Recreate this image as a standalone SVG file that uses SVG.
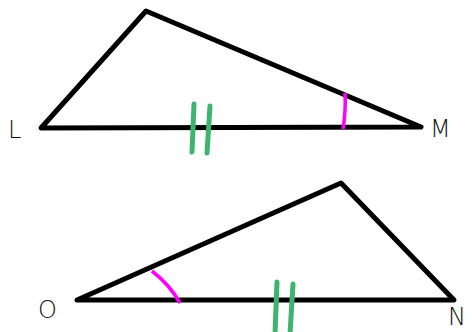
<svg xmlns="http://www.w3.org/2000/svg" width="472" height="332" viewBox="0 0 472 332">
<style>
.tri{fill:none;stroke:#000;stroke-width:5;stroke-linejoin:round;stroke-linecap:round}
.tick{fill:none;stroke:#3db56e;stroke-width:5;stroke-linecap:round}
.ang{fill:none;stroke:#ff00ff;stroke-width:3.5}
.lbl{font-family:"DejaVu Sans","Liberation Sans",sans-serif;font-size:24px;fill:#111;font-weight:200}
</style>
<rect width="472" height="332" fill="#fff"/>
<g id="triangle-LM">
<polygon class="tri" points="41,128 146,11 421,127"/>
<path class="ang" d="M345,93 Q346,110 343,129"/>
<line class="tick" x1="194" y1="104" x2="192" y2="152"/>
<line class="tick" x1="210" y1="106" x2="207" y2="153"/>
</g>
<g id="triangle-ON">
<polygon class="tri" points="77,300 341,183 454,300"/>
<path class="ang" d="M152,271 Q170,285 180,303"/>
<line class="tick" x1="277" y1="282" x2="275" y2="334"/>
<line class="tick" x1="293" y1="284" x2="290" y2="334"/>
</g>
<g id="labels">
<text class="lbl" x="8" y="138">L</text>
<text class="lbl" x="430" y="137">M</text>
<text class="lbl" x="38" y="318">O</text>
<text class="lbl" x="448" y="325" font-size="20">N</text>
</g>
</svg>
